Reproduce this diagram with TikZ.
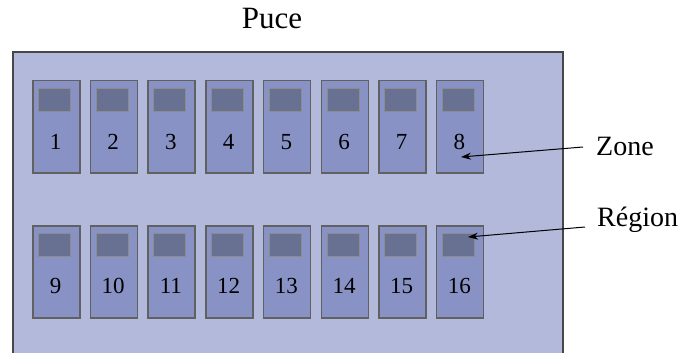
\documentclass[tikz,border=0pt]{standalone}
\usepackage{fontspec}
\setmainfont{Liberation Serif}
\usetikzlibrary{arrows.meta}
\begin{document}
\begin{tikzpicture}[x=1pt,y=-1pt,
  chip/.style={draw=black!72,line width=2pt,fill=chipfill},
  zonebox/.style={draw=black!62,line width=1.5pt,fill=zonefill,minimum width=47pt,minimum height=92pt,inner sep=0pt,anchor=north west},
  regbox/.style={draw=black!45,line width=1pt,fill=regfill,minimum width=32pt,minimum height=23pt,inner sep=0pt,anchor=north west},
  num/.style={font=\fontsize{23}{25}\selectfont,inner sep=0pt},
  lbl/.style={font=\fontsize{28}{30}\selectfont,inner sep=0pt},
  arr/.style={-{Stealth[length=10pt,width=7pt]},line width=1pt}]
\definecolor{chipfill}{RGB}{178,185,218}
\definecolor{zonefill}{RGB}{136,146,196}
\definecolor{regfill}{RGB}{104,113,146}
\useasboundingbox (0,0) rectangle (681,353);
\draw[chip] (13,52) rectangle (563,360);
\node[lbl,font=\fontsize{31}{33}\selectfont] (puce) at (272,19) {Puce};
\foreach \i in {1,...,8} {
  \pgfmathsetmacro{\xx}{32+57.7*(\i-1)}
  \node[zonebox] (z\i) at (\xx,80) {};
  \node[regbox] (r\i) at (\xx+6,88) {};
  \node[num] (n\i) at (\xx+23.5,142) {\i};
  \pgfmathtruncatemacro{\j}{\i+8}
  \node[zonebox] (z\j) at (\xx,225) {};
  \node[regbox] (r\j) at (\xx+6,233) {};
  \node[num] (n\j) at (\xx+23.5,286) {\j};
}
\node[lbl,anchor=west] (zone) at (596,146) {Zone};
\node[lbl,anchor=west] (region) at (597,220) {Région};
\coordinate (za) at (583,147);
\coordinate (zb) at (461,157);
\coordinate (ra) at (585,227);
\coordinate (rb) at (468,237);
\draw[arr] (za) -- (zb);
\draw[arr] (ra) -- (rb);
\end{tikzpicture}
\end{document}
